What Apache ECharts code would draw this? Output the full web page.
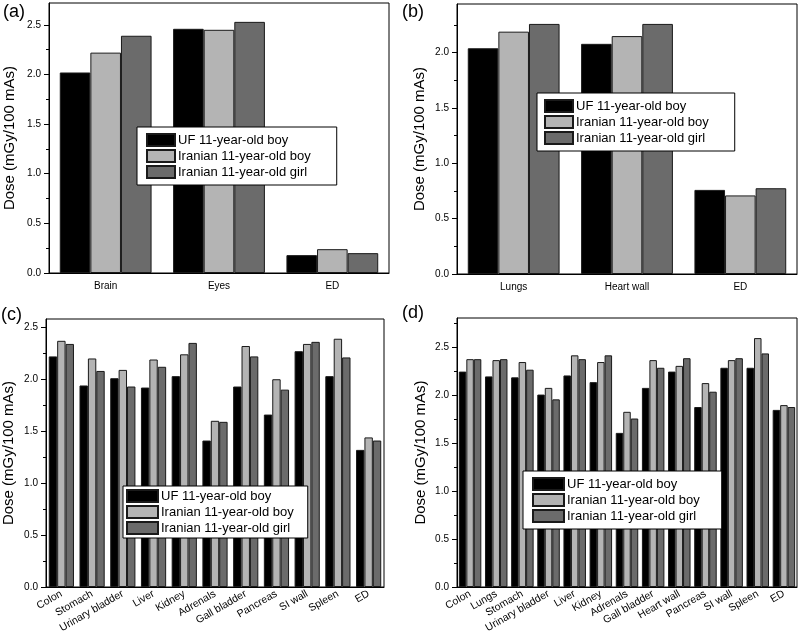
<!DOCTYPE html>
<html>
<head>
<meta charset="utf-8">
<script src="https://cdn.jsdelivr.net/npm/echarts@6/dist/echarts.min.js"></script>
<style>html,body{margin:0;padding:0;background:#fff}#c{width:800px;height:643px}</style>
</head>
<body>
<div id="c"></div>
<script>
const seriesNames = ['UF 11-year-old boy', 'Iranian 11-year-old boy', 'Iranian 11-year-old girl'];

const catsA = ['Brain', 'Eyes', 'ED'];
const ufA = [2.02, 2.46, 0.18];
const ibA = [2.22, 2.45, 0.24];
const igA = [2.39, 2.53, 0.20];

const catsB = ['Lungs', 'Heart wall', 'ED'];
const ufB = [2.04, 2.08, 0.76];
const ibB = [2.19, 2.15, 0.71];
const igB = [2.26, 2.26, 0.775];

const catsC = ['Colon', 'Stomach', 'Urinary bladder', 'Liver', 'Kidney', 'Adrenals', 'Gall bladder', 'Pancreas', 'SI wall', 'Spleen', 'ED'];
const ufC = [2.22, 1.94, 2.01, 1.92, 2.03, 1.41, 1.93, 1.66, 2.27, 2.03, 1.32];
const ibC = [2.37, 2.20, 2.09, 2.19, 2.24, 1.60, 2.32, 2.00, 2.34, 2.39, 1.44];
const igC = [2.34, 2.08, 1.93, 2.12, 2.35, 1.59, 2.22, 1.90, 2.36, 2.21, 1.41];

const catsD = ['Colon', 'Lungs', 'Stomach', 'Urinary bladder', 'Liver', 'Kidney', 'Adrenals', 'Gall bladder', 'Heart wall', 'Pancreas', 'SI wall', 'Spleen', 'ED'];
const ufD = [2.25, 2.20, 2.19, 2.01, 2.21, 2.14, 1.61, 2.08, 2.25, 1.88, 2.29, 2.29, 1.85];
const ibD = [2.38, 2.37, 2.35, 2.08, 2.42, 2.35, 1.83, 2.37, 2.31, 2.13, 2.37, 2.60, 1.90];
const igD = [2.38, 2.38, 2.27, 1.96, 2.38, 2.42, 1.76, 2.29, 2.39, 2.04, 2.39, 2.44, 1.88];

const yMajorTicks = [0, 0.5, 1.0, 1.5, 2.0, 2.5];
const yMinorTicks = [0.25, 0.75, 1.25, 1.75, 2.25, 2.75];

const yTitle = 'Dose (mGy/100 mAs)';
const panelLabels = ['(a)', '(b)', '(c)', '(d)'];

const FONT = '"Liberation Sans", Arial, sans-serif';
const colors = ['#000000', '#b4b4b4', '#6b6b6b'];

const panels = [
  {cats: catsA, vals: [ufA, ibA, igA], grid: {left: 49, top: 3, width: 340, height: 270}, yMax: 2.72, rotate: 0, nameGap: 32, gap: '19%',
   legend: {left: 137, top: 127, padding: [6, 26, 6, 9]}, label: {x: 3, y: 3}},
  {cats: catsB, vals: [ufB, ibB, igB], grid: {left: 457, top: 4, width: 340, height: 270}, yMax: 2.44, rotate: 0, nameGap: 30, gap: '19%',
   legend: {left: 537, top: 93, padding: [6, 26, 6, 7]}, label: {x: 402, y: 3}},
  {cats: catsC, vals: [ufC, ibC, igC], grid: {left: 44, top: 319, width: 340, height: 268}, yMax: 2.58, rotate: 30, nameGap: 30, gap: '18%',
   legend: {left: 123, top: 486, padding: [3, 14, 3, 3], itemWidth: 31}, label: {x: 1, y: 306}},
  {cats: catsD, vals: [ufD, ibD, igD], grid: {left: 457, top: 318, width: 340, height: 269}, yMax: 2.81, rotate: 30, nameGap: 29, gap: '14%',
   legend: {left: 523, top: 471, padding: [6, 22, 6, 9], itemWidth: 31}, label: {x: 402, y: 304}}
];

const option = {animation: false, grid: [], xAxis: [], yAxis: [], series: [], legend: [], graphic: []};

panels.forEach((p, i) => {
  option.grid.push(Object.assign({show: true, borderColor: '#000', borderWidth: 1, backgroundColor: 'transparent'}, p.grid));
  option.xAxis.push({
    gridIndex: i, type: 'category', data: p.cats, position: 'bottom',
    axisLine: {lineStyle: {color: '#000', width: 1}},
    axisTick: {alignWithLabel: true, length: 5, lineStyle: {color: '#000'}},
    axisLabel: {interval: 0, rotate: p.rotate, fontSize: p.rotate ? 10.5 : 10, color: '#000', fontFamily: FONT, margin: p.rotate ? 6 : 8}
  });
  option.xAxis.push({
    gridIndex: i, type: 'category', data: p.cats, position: 'bottom',
    axisLine: {show: false},
    axisTick: {length: 3, lineStyle: {color: '#000'}},
    axisLabel: {show: false}
  });
  option.yAxis.push({
    gridIndex: i, type: 'value', min: 0, max: p.yMax, position: 'left',
    name: yTitle, nameLocation: 'middle', nameGap: p.nameGap,
    nameTextStyle: {fontSize: 15, color: '#000', fontFamily: FONT},
    axisLine: {show: true, lineStyle: {color: '#000', width: 1}},
    axisTick: {show: true, length: 5, customValues: yMajorTicks, lineStyle: {color: '#000'}},
    axisLabel: {customValues: yMajorTicks, formatter: v => v.toFixed(1), fontSize: 10, color: '#000', fontFamily: FONT, margin: 8},
    splitLine: {show: false}
  });
  option.yAxis.push({
    gridIndex: i, type: 'value', min: 0, max: p.yMax, position: 'left', offset: 0,
    axisLine: {show: false},
    axisTick: {show: true, length: 3, customValues: yMinorTicks.filter(v => v < p.yMax), lineStyle: {color: '#000'}},
    axisLabel: {show: false},
    splitLine: {show: false}
  });
  seriesNames.forEach((n, k) => {
    option.series.push({
      type: 'bar', name: n, xAxisIndex: 2 * i, yAxisIndex: 2 * i,
      data: p.vals[k], barGap: '0%', barCategoryGap: p.gap,
      itemStyle: {color: colors[k], borderColor: '#1a1a1a', borderWidth: 1}
    });
  });
  option.legend.push({
    data: seriesNames, orient: 'vertical', left: p.legend.left, top: p.legend.top,
    padding: p.legend.padding, itemWidth: p.legend.itemWidth || 28, itemHeight: 12, itemGap: 2,
    icon: 'rect', backgroundColor: '#fff', borderColor: '#000', borderWidth: 1,
    selectedMode: false,
    textStyle: {fontSize: 13, color: '#000', fontFamily: FONT, padding: [0, 0, 0, -2]}
  });
  option.graphic.push({type: 'text', left: p.label.x, top: p.label.y,
    style: {text: panelLabels[i], fontSize: 18, fill: '#000', fontFamily: FONT}});
});

const chart = echarts.init(document.getElementById('c'), null, {renderer: 'canvas'});
chart.setOption(option);
</script>
</body>
</html>
